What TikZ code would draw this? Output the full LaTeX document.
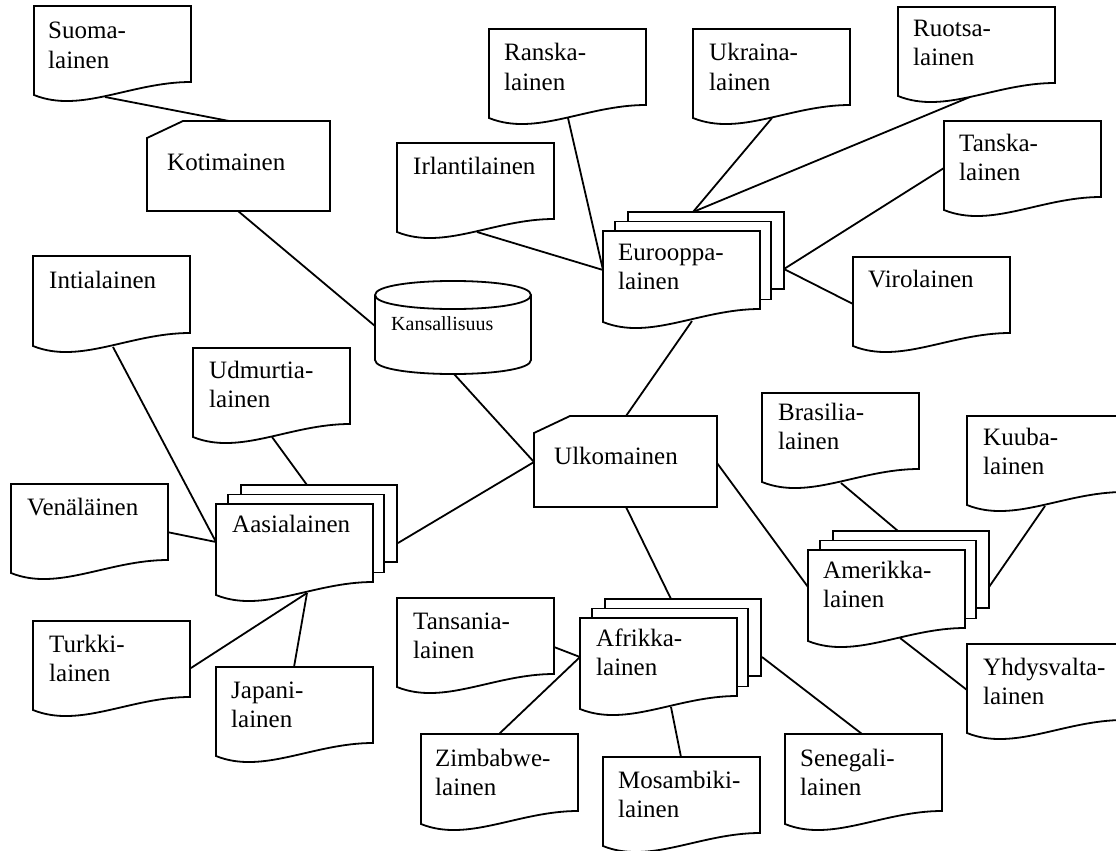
\documentclass[tikz,border=0pt]{standalone}
\usepackage{fontspec}
\setmainfont{Liberation Serif}
\tikzset{
  shp/.style={draw, fill=white, line width=1.8pt, line join=miter},
  conn/.style={line width=1.8pt},
  lbl/.style={anchor=base west, inner sep=0pt, align=left, font=\fontsize{25}{29}\selectfont},
  lbltwo/.style={lbl, yshift=-29pt},
  slbl/.style={anchor=base west, inner sep=0pt, font=\fontsize{20}{24}\selectfont},
}
% document shape: #1 = left x, #2 = top y, #3 = height to right bottom corner
\newcommand\docshape[3]{%
  \path[shp] (#1,#2) -- ({#1+157},#2) -- ({#1+157},{#2+#3})
    .. controls ({#1+97},{#2+#3}) and ({#1+47},{#2+#3+32}) .. (#1,{#2+#3+13}) -- cycle;}
% multi-document shape: #1 = left x of front sheet, #2 = top y of front sheet
\newcommand\multidoc[2]{%
  \path[shp] ({#1+25},{#2-19}) rectangle ({#1+181},{#2+58});
  \path[shp] ({#1+12},{#2-9.5}) rectangle ({#1+168},{#2+68.5});
  \docshape{#1}{#2}{78}}
% card shape: #1 left, #2 top, #3 right, #4 bottom
\newcommand\cardshape[4]{%
  \path[shp] (#1,{#2+17}) -- ({#1+36},#2) -- (#3,#2) -- (#3,#4) -- (#1,#4) -- cycle;}
\begin{document}
\begin{tikzpicture}[x=1pt,y=-1pt]
\useasboundingbox (0,0) rectangle (1116,851);
\fill[white] (0,0) rectangle (1116,851);
\clip (0,0) rectangle (1116,851);

% ---------- connection points ----------
\coordinate (suoma-b) at (105,97);
\coordinate (koti-t) at (229,121);
\coordinate (koti-b) at (238,211);
\coordinate (kans-l) at (375,326);
\coordinate (kans-b) at (454,374);
\coordinate (ulko-l) at (534,462);
\coordinate (ulko-t) at (626,416);
\coordinate (ulko-b) at (626,507);
\coordinate (ulko-r) at (717,463);
\coordinate (euro-b) at (692,321);
\coordinate (euro-l) at (603,270);
\coordinate (euro-t) at (693,212);
\coordinate (euro-r) at (784,269);
\coordinate (aasia-r) at (398,543);
\coordinate (aasia-l) at (216,542);
\coordinate (aasia-t) at (307,485);
\coordinate (aasia-b) at (307,593);
\coordinate (afr-t) at (671,599);
\coordinate (afr-l) at (580,657);
\coordinate (afr-b) at (671,707);
\coordinate (afr-r) at (762,657);
\coordinate (amer-l) at (808,587);
\coordinate (amer-t) at (898,531);
\coordinate (amer-r) at (989,587);
\coordinate (amer-b) at (900,638);
\coordinate (ranska-b) at (568,118);
\coordinate (irl-b) at (477,232);
\coordinate (ukr-b) at (772,118);
\coordinate (ruotsa-b) at (970,97);
\coordinate (tanska-l) at (944,168);
\coordinate (viro-l) at (853,304);
\coordinate (intia-b) at (113,347);
\coordinate (venaja-r) at (167,532);
\coordinate (udm-b) at (272,437);
\coordinate (turkki-r) at (191,668);
\coordinate (japani-t) at (294,667);
\coordinate (tans-r) at (554,647);
\coordinate (zimb-t) at (499,734);
\coordinate (mos-t) at (681,757);
\coordinate (sen-t) at (862,734);
\coordinate (bras-b) at (841,483);
\coordinate (kuuba-b) at (1045,506);
\coordinate (yhd-l) at (967,690);

% ---------- connectors ----------
\draw[conn] (suoma-b) -- (koti-t);
\draw[conn] (koti-b) -- (kans-l);
\draw[conn] (kans-b) -- (ulko-l);
\draw[conn] (ulko-t) -- (euro-b);
\draw[conn] (ulko-l) -- (aasia-r);
\draw[conn] (ulko-b) -- (afr-t);
\draw[conn] (ulko-r) -- (amer-l);
\draw[conn] (ranska-b) -- (euro-l);
\draw[conn] (irl-b) -- (euro-l);
\draw[conn] (ukr-b) -- (euro-t);
\draw[conn] (ruotsa-b) -- (euro-t);
\draw[conn] (tanska-l) -- (euro-r);
\draw[conn] (viro-l) -- (euro-r);
\draw[conn] (intia-b) -- (aasia-l);
\draw[conn] (venaja-r) -- (aasia-l);
\draw[conn] (udm-b) -- (aasia-t);
\draw[conn] (turkki-r) -- (aasia-b);
\draw[conn] (japani-t) -- (aasia-b);
\draw[conn] (tans-r) -- (afr-l);
\draw[conn] (zimb-t) -- (afr-l);
\draw[conn] (mos-t) -- (afr-b);
\draw[conn] (sen-t) -- (afr-r);
\draw[conn] (bras-b) -- (amer-t);
\draw[conn] (kuuba-b) -- (amer-r);
\draw[conn] (yhd-l) -- (amer-b);

% ---------- shapes ----------
\docshape{34}{6}{76}
\docshape{489}{29}{76}
\docshape{693}{29}{76}
\docshape{898}{7}{76}
\docshape{397}{143}{76}
\docshape{944}{121}{76}
\docshape{853}{257}{76}
\docshape{33}{256}{77}
\docshape{193}{348}{76}
\docshape{11}{484}{76}
\docshape{33}{621}{76}
\docshape{216}{667}{76}
\docshape{397}{598}{76}
\docshape{421}{734}{77}
\docshape{603}{757}{76}
\docshape{785}{734}{77}
\docshape{762}{393}{76}
\docshape{967}{416}{76}
\docshape{967}{644}{76}
\multidoc{603}{231}
\multidoc{216}{504}
\multidoc{580}{618}
\multidoc{808}{550}
\cardshape{147}{121}{330}{211}
\cardshape{534}{416}{717}{507}
% cylinder
\path[shp] (375,295) -- (375,360) .. controls (375,378.7) and (531,378.7) .. (531,360)
  -- (531,295) .. controls (531,276.3) and (375,276.3) .. (375,295) -- cycle;
\draw[line width=1.8pt] (375,295) .. controls (375,313.7) and (531,313.7) .. (531,295);

% ---------- labels ----------
\node[lbltwo] (suoma) at (48,39) {Suoma-\\lainen};
\node[lbl] (koti) at (167,170) {Kotimainen};
\node[lbltwo] (ranska) at (504,61) {Ranska-\\lainen};
\node[lbltwo] (ukraina) at (709,61) {Ukraina-\\lainen};
\node[lbltwo] (ruotsa) at (913,37) {Ruotsa-\\lainen};
\node[lbl] (irlanti) at (413,174) {Irlantilainen};
\node[lbltwo] (tanska) at (959,151) {Tanska-\\lainen};
\node[lbl] (viro) at (868,287) {Virolainen};
\node[lbltwo] (eurooppa) at (618,260) {Eurooppa-\\lainen};
\node[slbl] (kans) at (391,330) {Kansallisuus};
\node[lbl] (intia) at (49,288) {Intialainen};
\node[lbltwo] (udmurtia) at (209,378) {Udmurtia-\\lainen};
\node[lbl] (venaja) at (27,515) {Venäläinen};
\node[lbl] (aasia) at (232,532) {Aasialainen};
\node[lbl] (ulko) at (554,464) {Ulkomainen};
\node[lbltwo] (turkki) at (49,652) {Turkki-\\lainen};
\node[lbltwo] (japani) at (231,698) {Japani-\\lainen};
\node[lbltwo] (tansania) at (413,629) {Tansania-\\lainen};
\node[lbltwo] (afrikka) at (596,646) {Afrikka-\\lainen};
\node[lbltwo] (zimbabwe) at (435,766) {Zimbabwe-\\lainen};
\node[lbltwo] (mosambiki) at (618,788) {Mosambiki-\\lainen};
\node[lbltwo] (senegali) at (800,766) {Senegali-\\lainen};
\node[lbltwo] (brasilia) at (778,420) {Brasilia-\\lainen};
\node[lbltwo] (kuuba) at (983,445) {Kuuba-\\lainen};
\node[lbltwo] (amerikka) at (823,578) {Amerikka-\\lainen};
\node[lbltwo] (yhdysvalta) at (983,675) {Yhdysvalta-\\lainen};
\end{tikzpicture}
\end{document}
